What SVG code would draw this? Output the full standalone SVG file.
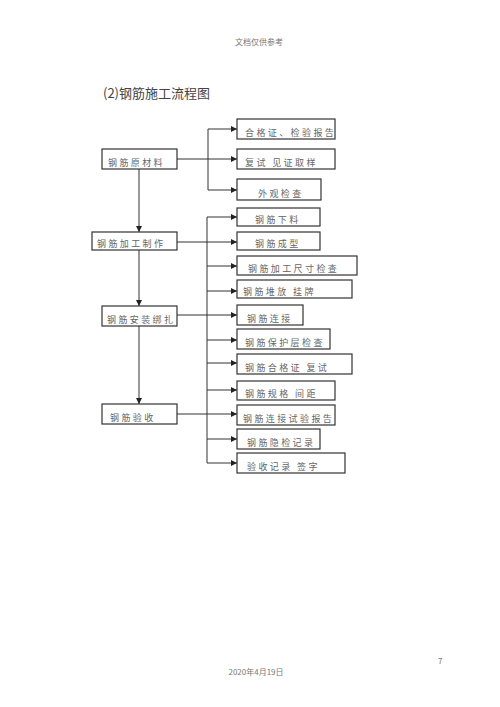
<svg xmlns="http://www.w3.org/2000/svg" width="500" height="707" viewBox="0 0 500 707">
<defs>
<marker id="ah" markerWidth="6" markerHeight="6" refX="6" refY="3" orient="auto" markerUnits="userSpaceOnUse">
<path d="M0,0 L6,3 L0,6 Z" fill="#222"/>
</marker>
<style>
.bx{fill:#fff;stroke:#333;stroke-width:1.2}
.bt{font-family:"Noto Sans CJK SC","Noto Sans",sans-serif;font-size:9px;fill:#666;letter-spacing:2.4px}
.ln{fill:none;stroke:#333;stroke-width:1}
.ar{fill:none;stroke:#333;stroke-width:1;marker-end:url(#ah)}
.hd{font-family:"Noto Sans CJK SC",sans-serif;font-size:8px;fill:#777}
.tt{font-family:"Noto Sans CJK SC",serif;font-size:13px;fill:#444}
</style>
</defs>
<rect width="500" height="707" fill="#fff"/>
<text class="hd" x="259" y="45" text-anchor="middle">文档仅供参考</text>
<text class="tt" x="103" y="98">(2)钢筋施工流程图</text>

<g id="connectors">
<path class="ar" d="M139,169 V232"/>
<path class="ar" d="M139,250 V306"/>
<path class="ar" d="M139,326 V404"/>
<path class="ar" d="M177,159 H237"/>
<path class="ln" d="M208,190 V129"/>
<path class="ar" d="M208,129 H237"/>
<path class="ar" d="M208,190 H237"/>
<path class="ar" d="M177,242 H237"/>
<path class="ar" d="M177,315 H237"/>
<path class="ar" d="M177,414 H237"/>
<path class="ln" d="M207,217 V463"/>
<path class="ar" d="M207,217 H237"/>
<path class="ar" d="M207,266 H237"/>
<path class="ar" d="M207,291 H237"/>
<path class="ar" d="M207,340 H237"/>
<path class="ar" d="M207,363 H237"/>
<path class="ar" d="M207,390 H237"/>
<path class="ar" d="M207,439 H237"/>
<path class="ar" d="M207,463 H237"/>
</g>

<g id="n_yuancai"><rect class="bx" x="102" y="149" width="75" height="20"/><text class="bt" x="108" y="166">钢筋原材料</text></g>
<g id="n_jiagong"><rect class="bx" x="92" y="232" width="85" height="18"/><text class="bt" x="97" y="247">钢筋加工制作</text></g>
<g id="n_anzhuang"><rect class="bx" x="102" y="306" width="75" height="20"/><text class="bt" x="107" y="323">钢筋安装绑扎</text></g>
<g id="n_yanshou"><rect class="bx" x="102" y="404" width="75" height="20"/><text class="bt" x="110" y="421">钢筋验收</text></g>

<g id="r1"><rect class="bx" x="237" y="119" width="98" height="20"/><text class="bt" x="245" y="136">合格证、检验报告</text></g>
<g id="r2"><rect class="bx" x="237" y="149" width="98" height="20"/><text class="bt" x="245" y="166">复试  见证取样</text></g>
<g id="r3"><rect class="bx" x="237" y="179" width="84" height="21"/><text class="bt" x="258" y="197">外观检查</text></g>

<g id="r4"><rect class="bx" x="237" y="208" width="83" height="18"/><text class="bt" x="255" y="223">钢筋下料</text></g>
<g id="r5"><rect class="bx" x="237" y="232" width="83" height="18"/><text class="bt" x="255" y="247">钢筋成型</text></g>
<g id="r6"><rect class="bx" x="237" y="256" width="120" height="19"/><text class="bt" x="248" y="272">钢筋加工尺寸检查</text></g>
<g id="r7"><rect class="bx" x="237" y="280" width="115" height="18"/><text class="bt" x="243" y="295">钢筋堆放  挂牌</text></g>

<g id="r8"><rect class="bx" x="237" y="305" width="66" height="20"/><text class="bt" x="247" y="322">钢筋连接</text></g>
<g id="r9"><rect class="bx" x="237" y="329" width="93" height="20"/><text class="bt" x="245" y="346">钢筋保护层检查</text></g>
<g id="r10"><rect class="bx" x="237" y="354" width="115" height="20"/><text class="bt" x="245" y="371">钢筋合格证  复试</text></g>

<g id="r11"><rect class="bx" x="237" y="381" width="98" height="19"/><text class="bt" x="245" y="397">钢筋规格  间距</text></g>
<g id="r12"><rect class="bx" x="237" y="405" width="98" height="20"/><text class="bt" x="243" y="422">钢筋连接试验报告</text></g>
<g id="r13"><rect class="bx" x="237" y="429" width="83" height="20"/><text class="bt" x="247" y="446">钢筋隐检记录</text></g>
<g id="r14"><rect class="bx" x="237" y="453" width="108" height="20"/><text class="bt" x="247" y="470">验收记录  签字</text></g>

<text class="hd" x="438" y="664">7</text>
<text class="hd" x="256" y="675" text-anchor="middle">2020年4月19日</text>
</svg>
